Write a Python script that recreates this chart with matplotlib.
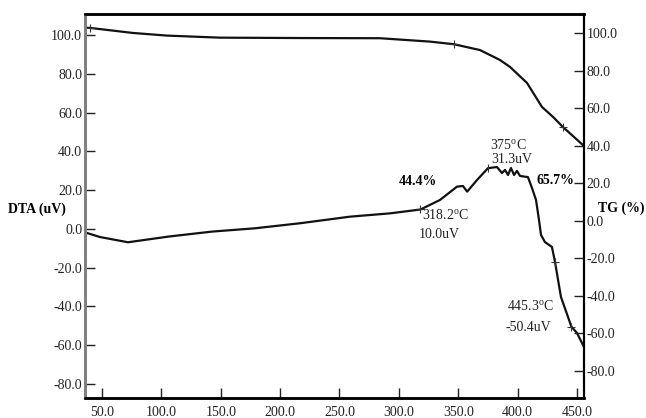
import numpy as np
import matplotlib
matplotlib.use('Agg')
import matplotlib.pyplot as plt

plt.rcParams['font.family'] = ['Liberation Serif', 'DejaVu Serif']
plt.rcParams['mathtext.fontset'] = 'custom'
plt.rcParams['mathtext.rm'] = 'Liberation Serif'

# TG curve (right axis, %)
tg_temp = [35.7, 39.9, 76.1, 104.7, 149.4, 216.7, 284.1, 326.2, 346.4, 368.3,
           385.2, 393.6, 407.9, 420.5, 429.8, 438.2, 455.9]
tg_val = [102.8, 102.7, 100.0, 98.6, 97.5, 97.3, 97.2, 95.4, 94.0, 90.9,
          85.6, 81.9, 73.4, 60.6, 55.3, 49.9, 39.8]
tg_marks = [1, 8, 15]

# DTA curve (left axis, uV)
dta_temp = [35.7, 48.3, 71.9, 105.6, 142.6, 178.8, 216.7, 258.8, 292.5, 318.2,
            334.6, 349.0, 354.0, 357.5, 365.8, 375.0, 382.6, 386.8, 389.4, 391.9,
            394.4, 397.0, 399.5, 402.0, 408.7, 412.1, 415.5, 418.0, 419.7, 423.0,
            428.9, 431.5, 436.5, 445.3, 450.0, 455.9]
dta_val = [-1.8, -4.2, -6.9, -4.0, -1.4, 0.3, 2.9, 6.3, 8.0, 10.0,
           14.9, 21.8, 22.1, 19.2, 25.2, 31.3, 31.9, 28.8, 30.4, 27.8,
           31.4, 27.8, 29.9, 27.3, 26.7, 21.1, 14.9, 4.6, -3.1, -6.8,
           -9.3, -17.1, -35.1, -50.4, -53.7, -60.9]
dta_marks = [9, 31, 33]
dta_peak = 15

x_ticks = [50, 100, 150, 200, 250, 300, 350, 400, 450]
y_ticks = [-80, -60, -40, -20, 0, 20, 40, 60, 80, 100]

fig = plt.figure(figsize=(6.46, 4.18), dpi=100)
ax1 = fig.add_axes([85/646, 1-398/418, (584-85)/646, (398-14)/418])
ax2 = ax1.twinx()

ax1.plot(dta_temp, dta_val, color='#111111', lw=1.6)
ax1.plot([dta_temp[i] for i in dta_marks], [dta_val[i] for i in dta_marks],
         '+', color='#333333', ms=6, mew=0.8)
ax1.plot(dta_temp[dta_peak], dta_val[dta_peak], '|', color='#333333', ms=6, mew=0.8)
ax2.plot(tg_temp, tg_val, color='#111111', lw=1.6)
ax2.plot([tg_temp[i] for i in tg_marks], [tg_val[i] for i in tg_marks],
         '+', color='#333333', ms=6, mew=0.8)

ax1.set_xlim(35.7, 455.9)
ax1.set_ylim(-87.2, 110.8)
ax2.set_ylim(-94.4, 110.1)

ax1.set_xticks(x_ticks)
ax1.set_xticklabels(['%.1f' % t for t in x_ticks])
ax1.set_yticks(y_ticks)
ax1.set_yticklabels(['%.1f' % t for t in y_ticks])
ax2.set_yticks(y_ticks)
ax2.set_yticklabels(['%.1f' % t for t in y_ticks])

ax1.tick_params(axis='x', direction='in', length=7, width=1, pad=6,
                labelsize=10, colors='#222222')
ax1.tick_params(axis='y', direction='in', length=7, width=1, pad=2,
                labelsize=10, colors='#222222')
ax2.tick_params(axis='y', direction='in', length=7, width=1, pad=2,
                labelsize=10, colors='#222222')

for ax in (ax1, ax2):
    ax.spines['left'].set_color('#808080')
    ax.spines['left'].set_linewidth(2)
    ax.spines['bottom'].set_linewidth(1.8)
    ax.spines['top'].set_linewidth(1.8)
    ax.spines['right'].set_linewidth(1.5)

# annotations
fs = 10
ax1.text(316, 24.2, '44.4%', ha='center', va='center', fontsize=fs, fontweight='bold')
ax1.text(319.5, 6.7, r'318.2$^{\rm o}$C', ha='left', va='center', fontsize=fs, color='#222222')
ax1.text(317, -3.1, '10.0uV', ha='left', va='center', fontsize=fs, color='#222222')
ax1.text(376.7, 42.8, r'375$^{\rm o}$C', ha='left', va='center', fontsize=fs, color='#222222')
ax1.text(377.6, 35.8, '31.3uV', ha='left', va='center', fontsize=fs, color='#222222')
ax1.text(416.3, 25.2, '65.7%', ha='left', va='center', fontsize=fs, fontweight='bold')
ax1.text(391, -40.2, r'445.3$^{\rm o}$C', ha='left', va='center', fontsize=fs, color='#222222')
ax1.text(390.2, -51.1, '-50.4uV', ha='left', va='center', fontsize=fs, color='#222222')

fig.text(8/646, 1-209/418, 'DTA (uV)', ha='left', va='center', fontsize=fs, fontweight='bold')
fig.text(598/646, 1-208/418, 'TG (%)', ha='left', va='center', fontsize=fs, fontweight='bold')

fig.savefig('out.png', dpi=100)
